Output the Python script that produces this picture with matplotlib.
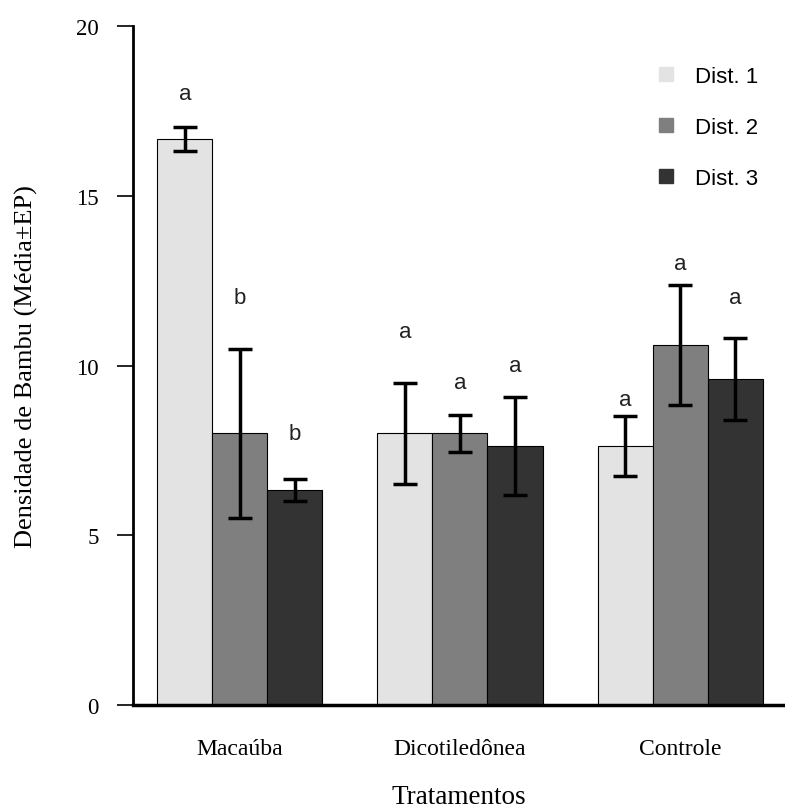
import numpy as np
import matplotlib.pyplot as plt
from matplotlib.lines import Line2D

tratamentos = ['Macaúba', 'Dicotiledônea', 'Controle']
series = ['Dist. 1', 'Dist. 2', 'Dist. 3']
# mean and standard error per treatment, one list per distance
media = {'Dist. 1': [16.67, 8.0, 7.63],
         'Dist. 2': [8.0, 8.0, 10.6],
         'Dist. 3': [6.33, 7.63, 9.6]}
ep = {'Dist. 1': [0.35, 1.5, 0.88],
      'Dist. 2': [2.5, 0.55, 1.77],
      'Dist. 3': [0.33, 1.45, 1.2]}
letras = {'Dist. 1': ['a', 'a', 'a'],
          'Dist. 2': ['b', 'a', 'a'],
          'Dist. 3': ['b', 'a', 'a']}
letra_y = {'Dist. 1': [18.0, 11.0, 9.0],
           'Dist. 2': [12.0, 9.5, 13.0],
           'Dist. 3': [8.0, 10.0, 12.0]}
cores = ['#e3e3e3', '#7f7f7f', '#333333']

serif = ['Liberation Serif', 'DejaVu Serif']
sans = ['Liberation Sans', 'DejaVu Sans']

fig = plt.figure(figsize=(7.85, 8.12), dpi=100)
ax = fig.add_axes([0.1694, 0.1305, 0.8306, 0.8362])

x = np.arange(len(tratamentos))
w = 0.25
for j, s in enumerate(series):
    pos = x + (j - 1) * w
    ax.bar(pos, media[s], width=w, color=cores[j], edgecolor='black', linewidth=0.8)
    ax.errorbar(pos, media[s], yerr=ep[s], fmt='none', ecolor='black',
                elinewidth=2.5, capsize=8.5, capthick=2.5)
    for k in range(len(tratamentos)):
        ax.text(pos[k], letra_y[s][k], letras[s][k], ha='center', va='center',
                fontsize=16, family=sans, color='#222222')

ax.set_xlim(-0.486, 2.477)
ax.set_ylim(0, 20)
ax.set_yticks([0, 5, 10, 15, 20])
ax.set_yticklabels(['0', '5', '10', '15', '20'], family=serif, fontsize=16.5)
ax.set_xticks(x)
ax.set_xticklabels(tratamentos, family=serif, fontsize=17)
ax.tick_params(axis='x', length=0, pad=24)
ax.tick_params(axis='y', length=11.5, width=1.2, pad=13)
ax.spines['top'].set_visible(False)
ax.spines['right'].set_visible(False)
ax.spines['left'].set_linewidth(2)
ax.spines['bottom'].set_linewidth(2.5)
ax.set_ylabel('Densidade de Bambu (Média±EP)', family=serif, fontsize=19)
ax.yaxis.set_label_coords(-0.146, 0.5)
ax.set_xlabel('Tratamentos', family=serif, fontsize=19.5, va='bottom')
ax.xaxis.set_label_coords(0.5, -0.1535)

handles = [Line2D([], [], marker='s', linestyle='none', markersize=10,
                  markerfacecolor=c, markeredgecolor=c) for c in cores]
leg = ax.legend(handles, series, loc='upper right', frameon=False,
                prop={'family': sans, 'size': 16}, labelspacing=1.35,
                handletextpad=0.3, bbox_to_anchor=(0.989, 0.971))

fig.savefig('out.png', dpi=100)
